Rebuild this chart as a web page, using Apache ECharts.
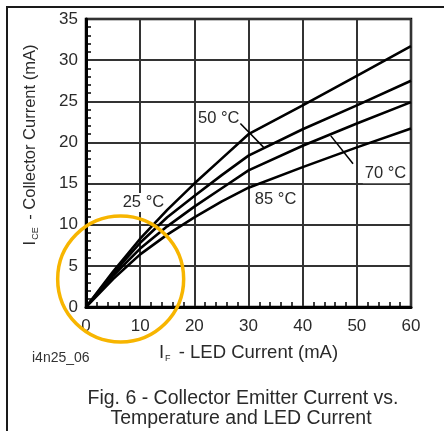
<!DOCTYPE html>
<html>
<head>
<meta charset="utf-8">
<script src="https://cdn.jsdelivr.net/npm/echarts@6/dist/echarts.min.js"></script>
<style>
  html, body { margin: 0; padding: 0; background: #fff; }
  #chart { width: 444px; height: 431px; }
</style>
</head>
<body>
<div id="chart"></div>
<script>
// LED current (mA) and collector-emitter current (mA) per temperature
var ledCurrent = [0, 5, 10, 15, 20, 25, 30, 40, 50, 60];
var ice25 = [0, 4.3, 8.3, 11.8, 15.0, 18.0, 21.0, 24.5, 28.1, 31.7];
var ice50 = [0, 4.1, 7.8, 10.9, 13.5, 16.0, 18.4, 21.6, 24.5, 27.5];
var ice70 = [0, 3.8, 7.1, 9.8, 12.2, 14.4, 16.6, 19.6, 22.3, 24.9];
var ice85 = [0, 3.4, 6.4, 8.8, 10.9, 12.8, 14.5, 17.0, 19.4, 21.7];
var xTicks = [0, 10, 20, 30, 40, 50, 60];
var yTicks = [0, 5, 10, 15, 20, 25, 30, 35];

// curve labels, in data coordinates, with optional leader lines
var curveLabels = [
  { text: '25 °C', at: [10.6, 12.7], leader: null },
  { text: '50 °C', at: [24.5, 22.9], leader: [[28.5, 22.3], [32.8, 19.4]] },
  { text: '70 °C', at: [55.3, 16.2], leader: [[45.2, 20.8], [49.3, 17.4]] },
  { text: '85 °C', at: [35.0, 13.1], leader: null }
];

var FONT = 'Liberation Sans, Arial, sans-serif';
var TXT = '#2a2a2a';

function pairs(ys) {
  return ledCurrent.map(function (x, i) { return [x, ys[i]]; });
}

function curve(name, ys) {
  return {
    name: name,
    type: 'line',
    data: pairs(ys),
    showSymbol: false,
    lineStyle: { color: '#000', width: 2.6 },
    z: 3
  };
}

function nameRich(size) {
  return {
    i: { fontFamily: FONT, fontSize: size, color: TXT, lineHeight: size + 2 },
    sub: { fontFamily: FONT, fontSize: 9, color: TXT, padding: [size - 7, 3, 0, 1], lineHeight: size + 2 }
  };
}

var chart = echarts.init(document.getElementById('chart'));

var option = {
  backgroundColor: '#fff',
  animation: false,
  grid: {
    left: 86, top: 19, width: 325, height: 288,
    show: true, borderColor: '#000', borderWidth: 2.5
  },
  xAxis: {
    type: 'value', min: 0, max: 60, interval: 10,
    name: '{i|I}{sub|F}{i| - LED Current (mA)}',
    nameLocation: 'middle', nameGap: 36,
    nameTextStyle: { rich: nameRich(18.5) },
    axisLine: { show: true, lineStyle: { color: '#000', width: 3 } },
    axisTick: { show: false },
    minorTick: { show: true, splitNumber: 5, length: -5, lineStyle: { color: '#000', width: 1.5 } },
    axisLabel: {
      fontFamily: FONT, fontSize: 17, color: TXT, margin: 11,
      formatter: function (v) { return xTicks.indexOf(v) >= 0 ? String(v) : ''; }
    },
    splitLine: { show: true, lineStyle: { color: '#333', width: 2 } }
  },
  yAxis: {
    type: 'value', min: 0, max: 35, interval: 5,
    name: '{i|I}{sub|CE}{i| - Collector Current (mA)}',
    nameLocation: 'middle', nameGap: 46, nameRotate: 90,
    nameTextStyle: { padding: [0, 0, 0, 36], rich: nameRich(16.5) },
    axisLine: { show: true, lineStyle: { color: '#000', width: 3 } },
    axisTick: { show: false },
    minorTick: { show: true, splitNumber: 5, length: -5, lineStyle: { color: '#000', width: 1.5 } },
    axisLabel: {
      fontFamily: FONT, fontSize: 17, color: TXT, margin: 8,
      formatter: function (v) { return yTicks.indexOf(v) >= 0 ? String(v) : ''; }
    },
    splitLine: { show: true, lineStyle: { color: '#333', width: 2 } }
  },
  series: [
    curve('25 °C', ice25),
    curve('50 °C', ice50),
    curve('70 °C', ice70),
    curve('85 °C', ice85)
  ]
};

chart.setOption(option);

// annotations: labels, leaders, frame, caption and the highlight circle
var g = [];
g.push({
  type: 'rect', shape: { x: 7, y: 7, width: 470, height: 470 },
  style: { fill: null, stroke: '#1a1a1a', lineWidth: 2 }, silent: true, z: 1
});
curveLabels.forEach(function (lb) {
  var p = chart.convertToPixel({ gridIndex: 0 }, lb.at);
  // label box sits above the grid lines but under the curves
  g.push({
    type: 'text', x: p[0], y: p[1], z: 1,
    style: {
      text: lb.text, fontFamily: FONT, fontSize: 16.5, fill: TXT,
      align: 'center', verticalAlign: 'middle',
      backgroundColor: '#fff', padding: [1, 2, 1, 2]
    }
  });
  if (lb.leader) {
    var a = chart.convertToPixel({ gridIndex: 0 }, lb.leader[0]);
    var b = chart.convertToPixel({ gridIndex: 0 }, lb.leader[1]);
    g.push({
      type: 'line', z: 10,
      shape: { x1: a[0], y1: a[1], x2: b[0], y2: b[1] },
      style: { stroke: '#000', lineWidth: 1.5 }
    });
  }
});
g.push({
  type: 'text', x: 32, y: 358, z: 10,
  style: { text: 'i4n25_06', fontFamily: FONT, fontSize: 14, fill: '#333', verticalAlign: 'middle' }
});
g.push({
  type: 'text', x: 243, y: 399, z: 10,
  style: { text: 'Fig. 6 - Collector Emitter Current vs.', fontFamily: FONT, fontSize: 19.5, fill: TXT, align: 'center', verticalAlign: 'middle' }
});
g.push({
  type: 'text', x: 241, y: 419, z: 10,
  style: { text: 'Temperature and LED Current', fontFamily: FONT, fontSize: 19.5, fill: TXT, align: 'center', verticalAlign: 'middle' }
});
var c = chart.convertToPixel({ gridIndex: 0 }, [6.4, 3.4]);
g.push({
  type: 'circle', z: 20, shape: { cx: c[0], cy: c[1], r: 63 },
  style: { fill: null, stroke: '#f7b500', lineWidth: 3.5 }, silent: true
});

chart.setOption({ graphic: g });
</script>
</body>
</html>
